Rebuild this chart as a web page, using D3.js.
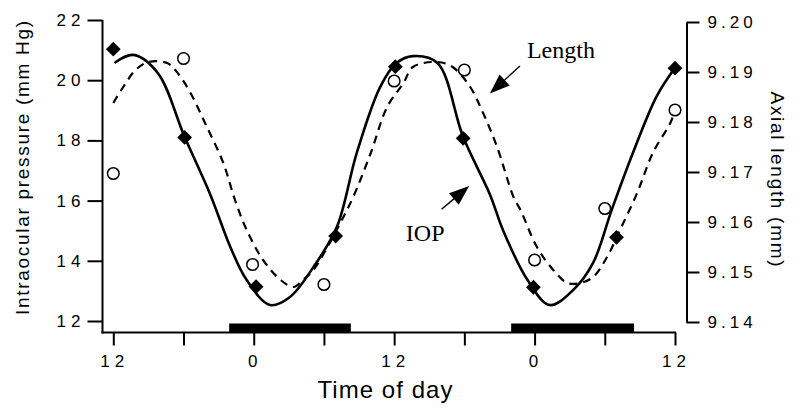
<!DOCTYPE html>
<html>
<head>
<meta charset="utf-8">
<script src="https://cdn.jsdelivr.net/npm/d3@7"></script>
<style>
  body { margin: 0; background: #fff; }
  svg { display: block; }
</style>
</head>
<body>
<script>
// Time axis (hours from noon), tick labels
const tickHours = [0, 6, 12, 18, 24, 30, 36, 42, 48];
const tickLabels = ["12", "", "0", "", "12", "", "0", "", "12"];
const iopTicks = [12, 14, 16, 18, 20, 22];
const lenTicks = [9.14, 9.15, 9.16, 9.17, 9.18, 9.19, 9.20];

// Measured points
const iopHours = [0, 6.1, 12.2, 19, 24.1, 29.9, 35.9, 43, 48];
const iopValues = [21.03, 18.10, 13.14, 14.82, 20.45, 18.07, 13.12, 14.78, 20.40];
const lenHours = [0, 6, 11.9, 18, 24, 30, 36, 42, 48];
const lenValues = [9.1697, 9.1927, 9.1515, 9.1475, 9.1882, 9.1904, 9.1524, 9.1627, 9.1824];

// Fitted curves
const iopCurveHours = [0.1, 1.7, 3.8, 6.1, 8.3, 10.0, 11.4, 13.4, 15.1, 17.1, 19.1, 20.8, 22.8, 24.2, 25.6, 27.7, 29.9, 32.2, 33.3, 35.4, 37.3, 39.3, 41.0, 42.6, 44.4, 46.4, 48];
const iopCurveValues = [20.57, 20.84, 20.24, 18.11, 16.19, 14.46, 13.36, 12.53, 12.80, 13.79, 15.12, 17.58, 19.77, 20.57, 20.80, 20.57, 18.11, 16.19, 15.02, 13.36, 12.53, 13.03, 13.93, 15.70, 17.58, 19.44, 20.41];
const lenCurveHours = [0, 0.85, 1.9, 3.0, 4.6, 5.5, 6.6, 8.0, 9.4, 10.4, 11.4, 12.8, 14.3, 15.4, 16.2, 17.1, 18.3, 19.4, 20.5, 22.0, 23.4, 24.8, 25.6, 27.7, 29.0, 30.5, 31.6, 32.8, 34.2, 34.8, 36.2, 37.6, 38.8, 39.9, 41.0, 42.2, 43.3, 44.8, 46.1, 47.6, 48];
const lenCurveValues = [9.1838, 9.1870, 9.1904, 9.1920, 9.1918, 9.1898, 9.1858, 9.1790, 9.1718, 9.1644, 9.1584, 9.1524, 9.1484, 9.1470, 9.1484, 9.1504, 9.1550, 9.1598, 9.1650, 9.1738, 9.1830, 9.1878, 9.1910, 9.1920, 9.1910, 9.1870, 9.1818, 9.1750, 9.1650, 9.1624, 9.1550, 9.1504, 9.1478, 9.1478, 9.1490, 9.1530, 9.1584, 9.1660, 9.1738, 9.1798, 9.1824];

// Dark periods (hours)
const darkStart = [9.9, 34.0];
const darkEnd = [20.3, 44.5];

const W = 800, H = 417;
const axisX = 102.5, baseY = 332.5;

const svg = d3.select("body").append("svg")
  .attr("width", W).attr("height", H);

const x = d3.scaleLinear().domain([0, 48]).range([113.3, 675]);
const yIop = d3.scaleLinear().domain([12, 22]).range([321, 20]);
const yLen = d3.scaleLinear().domain([9.14, 9.20]).range([322, 22]);

const sans = "'Liberation Sans', Arial, Helvetica, sans-serif";
const serif = "'Liberation Serif', 'Times New Roman', serif";

// dark bars
svg.selectAll(".dark")
  .data(darkStart)
  .enter().append("rect")
  .attr("x", (d, i) => x(d))
  .attr("width", (d, i) => x(darkEnd[i]) - x(d))
  .attr("y", 323.5)
  .attr("height", baseY - 323.5)
  .attr("fill", "#000");

// Left axis
const leftAxis = svg.append("g")
  .attr("transform", `translate(${axisX},0)`)
  .call(d3.axisLeft(yIop).tickValues(iopTicks).tickSize(15).tickSizeOuter(0).tickPadding(4));
leftAxis.select(".domain").remove();
leftAxis.selectAll("line").attr("stroke-width", 2);
leftAxis.selectAll("text")
  .style("font-family", sans).style("font-size", "17px")
  .style("letter-spacing", "5px")
  .attr("x", -17);
svg.append("line")
  .attr("x1", axisX).attr("x2", axisX)
  .attr("y1", yIop(22)).attr("y2", baseY + 1)
  .attr("stroke", "#000").attr("stroke-width", 2);

// Right axis
const rightAxis = svg.append("g")
  .attr("transform", "translate(686.5,0)")
  .call(d3.axisRight(yLen).tickValues(lenTicks).tickFormat(d3.format(".2f")).tickSize(13).tickSizeOuter(0).tickPadding(8));
rightAxis.select(".domain").attr("stroke-width", 2);
rightAxis.selectAll("line").attr("stroke-width", 2);
rightAxis.selectAll("text")
  .style("font-family", sans).style("font-size", "17px")
  .style("letter-spacing", "4px");

// Bottom axis
const bottomAxis = svg.append("g")
  .attr("transform", `translate(0,${baseY})`)
  .call(d3.axisBottom(x).tickValues(tickHours).tickFormat((d, i) => tickLabels[i]).tickSize(13).tickSizeOuter(0).tickPadding(9));
bottomAxis.select(".domain").remove();
bottomAxis.selectAll("line").attr("stroke-width", 2);
bottomAxis.selectAll("text")
  .style("font-family", sans).style("font-size", "17px")
  .style("letter-spacing", "5px")
  .attr("dx", "1px");
svg.append("line")
  .attr("x1", axisX - 1).attr("x2", x(48) + 1)
  .attr("y1", baseY).attr("y2", baseY)
  .attr("stroke", "#000").attr("stroke-width", 2);

// Axis titles
svg.append("text")
  .attr("transform", "translate(29,168) rotate(-90)")
  .attr("text-anchor", "middle")
  .attr("textLength", 294)
  .style("font-family", sans).style("font-size", "19px")
  .text("Intraocular pressure (mm Hg)");

svg.append("text")
  .attr("transform", "translate(771,179) rotate(90)")
  .attr("text-anchor", "middle")
  .attr("textLength", 175)
  .style("font-family", sans).style("font-size", "19px")
  .text("Axial length (mm)");

svg.append("text")
  .attr("x", 385).attr("y", 398)
  .attr("text-anchor", "middle")
  .attr("textLength", 135)
  .style("font-family", sans).style("font-size", "24px")
  .text("Time of day");

// Curves
const iopLine = d3.line()
  .x((d, i) => x(iopCurveHours[i]))
  .y(d => yIop(d))
  .curve(d3.curveCatmullRom);
svg.append("path")
  .attr("d", iopLine(iopCurveValues))
  .attr("fill", "none").attr("stroke", "#000")
  .attr("stroke-width", 2.6);

const lenLine = d3.line()
  .x((d, i) => x(lenCurveHours[i]))
  .y(d => yLen(d))
  .curve(d3.curveCatmullRom);
svg.append("path")
  .attr("d", lenLine(lenCurveValues))
  .attr("fill", "none").attr("stroke", "#000")
  .attr("stroke-width", 2.2)
  .attr("stroke-dasharray", "8,6");

// Points
svg.selectAll(".len-pt")
  .data(lenValues)
  .enter().append("circle")
  .attr("cx", (d, i) => x(lenHours[i]))
  .attr("cy", d => yLen(d))
  .attr("r", 5.8)
  .attr("fill", "#fff").attr("stroke", "#000").attr("stroke-width", 1.5);

svg.selectAll(".iop-pt")
  .data(iopValues)
  .enter().append("path")
  .attr("d", d3.symbol(d3.symbolSquare, 110))
  .attr("transform", (d, i) => `translate(${x(iopHours[i])},${yIop(d)}) rotate(45)`)
  .attr("fill", "#000");

// Annotations (arrow tail, arrow tip, label position)
const arrowFromHour = [34.75, 28.05];
const arrowFromVal = [9.1912, 15.71];
const arrowToHour = [32.18, 30.41];
const arrowToVal = [9.1857, 16.485];
const noteHour = [35.35, 25.0];
const noteVal = [9.1929, 14.67];
const noteText = ["Length", "IOP"];
const noteScale = [yLen, yIop];

noteText.forEach((t, i) => {
  const ys = noteScale[i];
  const x1 = x(arrowFromHour[i]), y1 = ys(arrowFromVal[i]);
  const x2 = x(arrowToHour[i]), y2 = ys(arrowToVal[i]);
  const ang = Math.atan2(y2 - y1, x2 - x1);
  const hl = 20, hw = 7.5;
  const bx = x2 - hl * Math.cos(ang), by = y2 - hl * Math.sin(ang);
  svg.append("line")
    .attr("x1", x1).attr("y1", y1).attr("x2", bx).attr("y2", by)
    .attr("stroke", "#000").attr("stroke-width", 1.4);
  svg.append("path")
    .attr("d", `M${x2},${y2}L${bx + hw * Math.sin(ang)},${by - hw * Math.cos(ang)}L${bx - hw * Math.sin(ang)},${by + hw * Math.cos(ang)}Z`)
    .attr("fill", "#000");
  svg.append("text")
    .attr("x", x(noteHour[i])).attr("y", ys(noteVal[i]))
    .style("font-family", serif).style("font-size", "24px")
    .text(t);
});
</script>
</body>
</html>
